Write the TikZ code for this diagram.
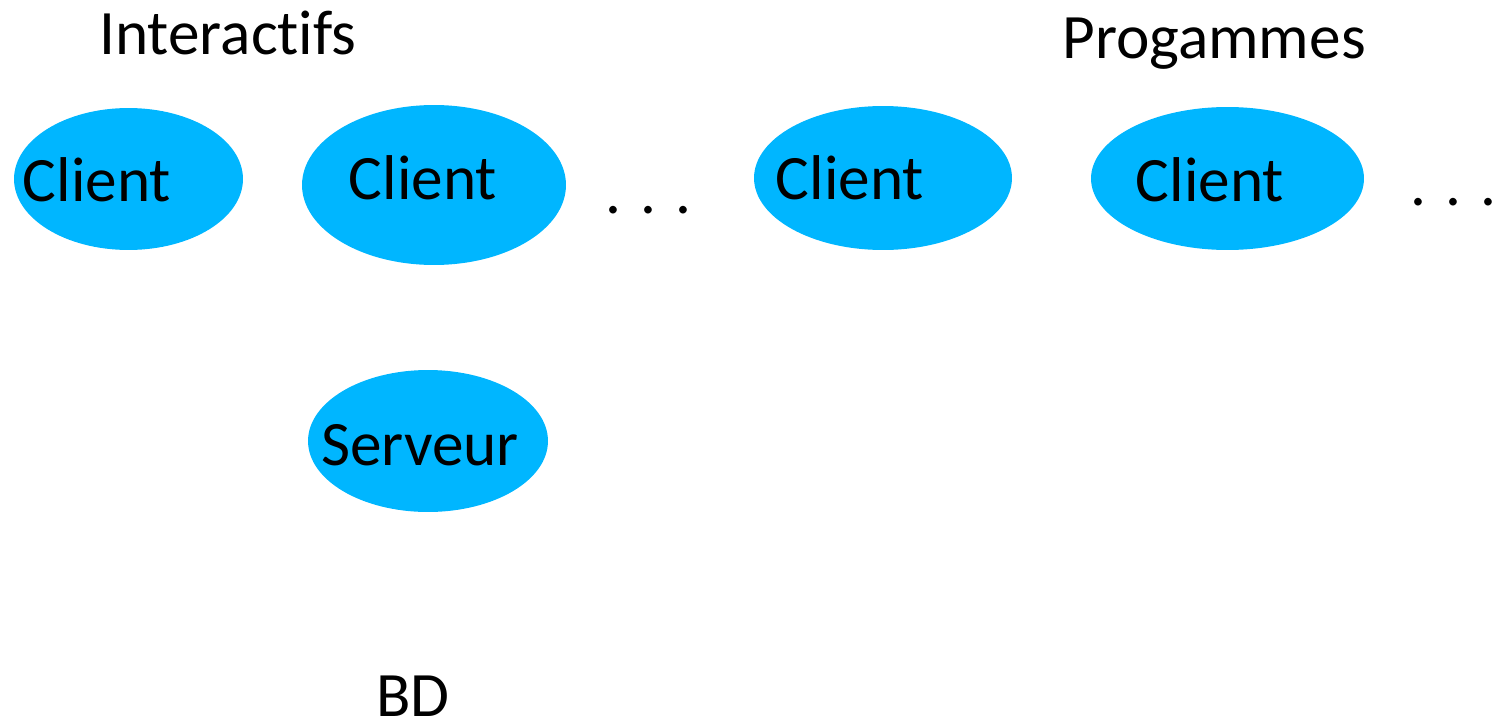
\documentclass[tikz,border=0pt]{standalone}
\usepackage{fontspec}
\setmainfont{Carlito}[RawFeature={-liga,-clig,-calt}]
\usetikzlibrary{shapes.geometric}
\definecolor{clientblue}{RGB}{0,182,255}

\tikzset{
  blob/.style={ellipse, fill=clientblue, inner sep=0pt},
  word/.style={font=\fontsize{36}{40}\selectfont, inner sep=0pt}
}

\begin{document}
\begin{tikzpicture}[x=0.02cm, y=-0.02cm]
        \useasboundingbox (0,0) rectangle (1505,720);
        % the ellipses
        \node[blob, minimum width=4.58cm, minimum height=2.84cm] (c1) at (128.5,179) {};
        \node[blob, minimum width=5.28cm, minimum height=3.2cm] (c2) at (434,185) {};
        \node[blob, minimum width=5.16cm, minimum height=2.88cm] (c3) at (883,178) {};
        \node[blob, minimum width=5.46cm, minimum height=2.86cm] (c4) at (1227.5,178.5) {};
        \node[blob, minimum width=4.8cm, minimum height=2.84cm] (srv) at (428,441) {};
        % the texts
        \node[word] (t1) at (97,180) {Client};
        \node[word] (t2) at (423,178) {Client};
        \node[word] (t3) at (850,178) {Client};
        \node[word] (t4) at (1210,180) {Client};
        \node[word] (tsrv) at (420,445) {Serveur};
        \node[word, anchor=base] (dots1) at (649,213) {. . .};
        \node[word, anchor=base] (dots2) at (1454,205) {. . .};
        \node[word] (inter) at (228,33) {Interact\hbox{}ifs};
        \node[word] (prog) at (1214,44) {Progammes};
        \node[word] (bd) at (413,696) {BD};
\end{tikzpicture}
\end{document}
